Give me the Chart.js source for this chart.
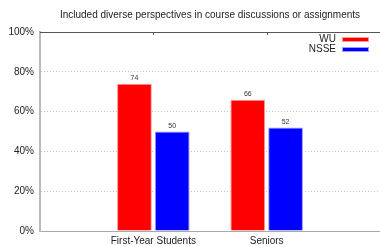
<!DOCTYPE html>
<html>
<head>
<meta charset="utf-8">
<script src="https://cdn.jsdelivr.net/npm/chart.js@4/dist/chart.umd.min.js"></script>
<style>
  html, body { margin: 0; padding: 0; background: #fff; overflow: hidden; }
  #wrap { width: 384px; height: 247px; position: relative; }
</style>
</head>
<body>
<div id="wrap"><canvas id="c"></canvas></div>
<script>
const categories = ['', 'First-Year Students', 'Seniors', ''];
const seriesNames = ['WU', 'NSSE'];
const wuValues = [null, 74, 66, null];
const nsseValues = [null, 50, 52, null];
const yTicks = [0, 20, 40, 60, 80, 100];
const titleText = 'Included diverse perspectives in course discussions or assignments';

const FONT = '"Liberation Sans", Arial, sans-serif';

const extras = {
  id: 'extras',
  afterDatasetsDraw(chart) {
    const ctx = chart.ctx;
    const ca = chart.chartArea;
    const xs = chart.scales.x;
    ctx.save();
    // top border
    ctx.strokeStyle = '#555';
    ctx.lineWidth = 1;
    ctx.beginPath();
    ctx.moveTo(ca.left, ca.top + 0.5);
    ctx.lineTo(ca.right, ca.top + 0.5);
    ctx.stroke();
    // top ticks at categories
    for (let i = 1; i < categories.length - 1; i++) {
      const x = Math.round(xs.getPixelForValue(i)) + 0.5;
      ctx.beginPath();
      ctx.moveTo(x, ca.top);
      ctx.lineTo(x, ca.top + 3);
      ctx.stroke();
    }
    // value labels
    ctx.fillStyle = '#333';
    ctx.font = '7px ' + FONT;
    ctx.textAlign = 'center';
    ctx.textBaseline = 'bottom';
    chart.data.datasets.forEach((ds, di) => {
      const meta = chart.getDatasetMeta(di);
      meta.data.forEach((bar, i) => {
        const v = ds.data[i];
        if (v === null || v === undefined) return;
        ctx.fillText(String(v), bar.x, bar.y - 2);
      });
    });
    // legend
    ctx.font = '10px ' + FONT;
    ctx.textAlign = 'right';
    ctx.textBaseline = 'middle';
    chart.data.datasets.forEach((ds, di) => {
      const yTop = ca.top + 5 + di * 10;
      const boxRight = ca.right - 11;
      ctx.fillStyle = ds.backgroundColor;
      ctx.fillRect(boxRight - 27, yTop, 27, 5);
      ctx.strokeStyle = ds.borderColor;
      ctx.lineWidth = 1;
      ctx.strokeRect(boxRight - 27 + 0.5, yTop + 0.5, 26, 4);
      ctx.fillStyle = '#222';
      ctx.fillText(ds.label, boxRight - 33, yTop + 2.5);
    });
    ctx.restore();
  }
};

new Chart(document.getElementById('c'), {
  type: 'bar',
  data: {
    labels: categories,
    datasets: [
      { label: seriesNames[0], data: wuValues, backgroundColor: '#ff0000', borderColor: '#ff9999', borderWidth: 1 },
      { label: seriesNames[1], data: nsseValues, backgroundColor: '#0000ff', borderColor: '#9999ff', borderWidth: 1 }
    ]
  },
  options: {
    responsive: true,
    maintainAspectRatio: false,
    animation: false,
    layout: { padding: { left: 0, right: 2, top: 0, bottom: 0 } },
    plugins: {
      legend: { display: false },
      tooltip: { enabled: false },
      title: {
        display: true,
        text: titleText,
        fullSize: false,
        color: '#222',
        font: { family: FONT, size: 10, weight: 'normal', lineHeight: 1.2 },
        padding: { top: 9, bottom: 11 }
      }
    },
    datasets: {
      bar: { categoryPercentage: 0.667, barPercentage: 0.92 }
    },
    scales: {
      x: {
        type: 'category',
        offset: false,
        grid: { display: false, drawTicks: false, tickLength: 0 },
        border: { display: true, color: '#aaa', width: 1 },
        ticks: {
          color: '#222',
          font: { family: FONT, size: 10 },
          padding: 4,
          autoSkip: false,
          maxRotation: 0
        },
        afterFit(s) { s.height = 16; }
      },
      y: {
        min: 0,
        max: 100,
        afterBuildTicks(s) { s.ticks = yTicks.map(v => ({ value: v })); },
        grid: { color: '#c4c4c4', drawTicks: false, tickLength: 0, lineWidth: 1 },
        border: { display: true, color: '#bbb', width: 2, dash: [1, 2] },
        ticks: {
          color: '#222',
          font: { family: FONT, size: 10 },
          padding: 6,
          callback: v => v + '%'
        },
        afterFit(s) { s.width = 40; }
      }
    }
  },
  plugins: [extras]
});
</script>
</body>
</html>
